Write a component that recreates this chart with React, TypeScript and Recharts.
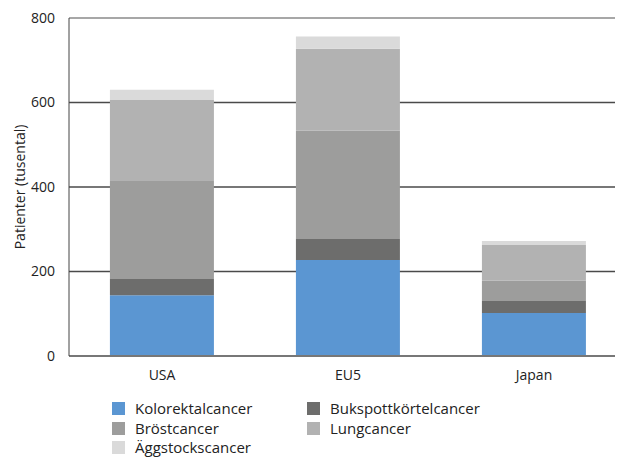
import React from "react";
import {
  BarChart,
  Bar,
  XAxis,
  YAxis,
  CartesianGrid,
  ReferenceLine,
  Label,
} from "recharts";

// Regions on the x axis
const regions = ["USA", "EU5", "Japan"];

// Patients (thousands) per cancer type, one value per region
const kolorektal = [144, 227, 102];
const bukspott = [38, 50, 28];
const brost = [232, 256, 48];
const lung = [192, 194, 85];
const aggstock = [24, 29, 9];

const yTicks = [0, 200, 400, 600, 800];

const series = [
  { key: "kolorektal", name: "Kolorektalcancer", color: "#5b96d2", values: kolorektal },
  { key: "bukspott", name: "Bukspottkörtelcancer", color: "#6d6d6c", values: bukspott },
  { key: "brost", name: "Bröstcancer", color: "#9d9d9c", values: brost },
  { key: "lung", name: "Lungcancer", color: "#b2b2b2", values: lung },
  { key: "aggstock", name: "Äggstockscancer", color: "#dadada", values: aggstock },
];

const data = regions.map((region, i) => {
  const row: Record<string, string | number> = { region };
  series.forEach((s) => {
    row[s.key] = s.values[i];
  });
  return row;
});

const FONT = "'Open Sans', 'Noto Sans', sans-serif";

// Legend laid out as two columns: left column first, then right column
const legendOrder = [
  ["kolorektal", "bukspott"],
  ["brost", "lung"],
  ["aggstock"],
];

function ChartLegend() {
  return (
    <div
      style={{
        position: "absolute",
        left: 112,
        top: 399,
        fontFamily: FONT,
        fontSize: 15,
        color: "#222",
        lineHeight: 1,
      }}
    >
      {legendOrder.map((row, r) => (
        <div key={r} style={{ display: "flex", height: 19.6, alignItems: "center" }}>
          {row.map((k) => {
            const s = series.find((x) => x.key === k)!;
            return (
              <div key={k} style={{ display: "flex", alignItems: "center", width: 195 }}>
                <span
                  style={{
                    display: "inline-block",
                    width: 13,
                    height: 13,
                    background: s.color,
                    marginRight: 10,
                  }}
                />
                <span>{s.name}</span>
              </div>
            );
          })}
        </div>
      ))}
    </div>
  );
}

export default function App() {
  return (
    <div
      style={{
        position: "fixed",
        left: 0,
        top: 0,
        width: 617,
        height: 457,
        overflow: "hidden",
        background: "#fff",
      }}
    >
      <BarChart
        width={617}
        height={457}
        data={data}
        margin={{ top: 18, right: 2, bottom: 71, left: 0 }}
        barCategoryGap="22%"
      >
        <CartesianGrid
          vertical={false}
          horizontalValues={[200, 400, 600]}
          stroke="#4a4a4a"
          strokeWidth={1.6}
        />
        <ReferenceLine y={800} stroke="#8a8a8a" strokeWidth={1.6} />
        <XAxis
          dataKey="region"
          padding={{ left: 0, right: -12 }}
          axisLine={{ stroke: "#777", strokeWidth: 2 }}
          tickLine={false}
          tickSize={0}
          tickMargin={14}
          height={30}
          tick={{ fill: "#222", fontSize: 14, fontFamily: FONT }}
        />
        <YAxis
          width={69}
          domain={[0, 800]}
          ticks={yTicks}
          axisLine={{ stroke: "#444", strokeWidth: 1 }}
          tickLine={false}
          tickSize={0}
          tickMargin={14}
          tick={{ fill: "#222", fontSize: 14, fontFamily: FONT }}
        >
          <Label
            value="Patienter (tusental)"
            angle={-90}
            position="insideLeft"
            offset={20}
            style={{ textAnchor: "middle", fill: "#222", fontSize: 14, fontFamily: FONT }}
          />
        </YAxis>
        {series.map((s) => (
          <Bar
            key={s.key}
            dataKey={s.key}
            name={s.name}
            stackId="total"
            fill={s.color}
            isAnimationActive={false}
          />
        ))}
      </BarChart>
      <ChartLegend />
    </div>
  );
}
